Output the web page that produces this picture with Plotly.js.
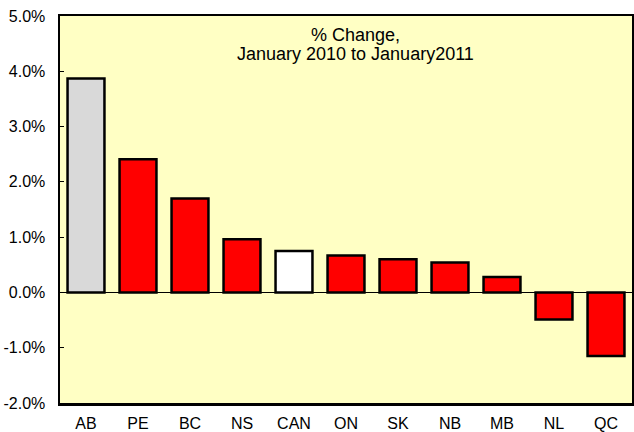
<!DOCTYPE html>
<html>
<head>
<meta charset="utf-8">
<script src="https://cdn.plot.ly/plotly-3.0.1.min.js"></script>
<style>
  body { margin: 0; background: white; }
  #chart { width: 634px; height: 432px; }
</style>
</head>
<body>
<div id="chart"></div>
<script>
// provinces, Jan 2010 -> Jan 2011 (% change)
const provinces = ['AB', 'PE', 'BC', 'NS', 'CAN', 'ON', 'SK', 'NB', 'MB', 'NL', 'QC'];
const pctChange = [3.87, 2.41, 1.70, 0.96, 0.75, 0.67, 0.60, 0.54, 0.28, -0.49, -1.15];
const barColours = ['#d9d9d9', '#ff0000', '#ff0000', '#ff0000', '#ffffff', '#ff0000',
                    '#ff0000', '#ff0000', '#ff0000', '#ff0000', '#ff0000'];
const yTickVals = [-2, -1, 0, 1, 2, 3, 4, 5];
const yTickText = yTickVals.map(v => v.toFixed(1) + '%');
const titleLines = ['% Change,', 'January 2010 to January2011'];

const trace = {
    type: 'bar',
    x: provinces,
    y: pctChange,
    marker: {
        color: barColours,
        line: { color: 'black', width: 2.5 }
    },
    hoverinfo: 'x+y',
    showlegend: false
};

// title sits inside the plot, two lines set close together
const titleY = [0.950, 0.903];
const annotations = titleLines.map((txt, i) => ({
    xref: 'paper', yref: 'paper',
    x: 0.516, y: titleY[i],
    xanchor: 'center', yanchor: 'middle',
    text: txt,
    showarrow: false,
    font: { size: 18, color: 'black' }
}));

const layout = {
    width: 634,
    height: 432,
    margin: { l: 60, r: 2, t: 16, b: 29 },
    paper_bgcolor: 'white',
    plot_bgcolor: '#ffffc4',
    bargap: 0.29,
    font: { family: 'Liberation Sans, Arial, sans-serif', size: 16, color: 'black' },
    xaxis: {
        showline: true,
        linecolor: 'black',
        linewidth: 2.5,
        mirror: true,
        ticks: '',
        showgrid: false,
        zeroline: false,
        tickfont: { size: 16 },
        ticklabelstandoff: 4
    },
    yaxis: {
        range: [-2, 5],
        tickvals: yTickVals,
        ticktext: yTickText,
        showline: true,
        linecolor: 'black',
        linewidth: 2.5,
        mirror: true,
        ticks: 'inside',
        ticklen: 4,
        tickcolor: 'black',
        showgrid: false,
        zeroline: true,
        zerolinecolor: 'black',
        zerolinewidth: 1,
        tickfont: { size: 16 },
        ticklabelstandoff: 9
    },
    annotations: annotations
};

Plotly.newPlot('chart', [trace], layout, { displayModeBar: false, staticPlot: true });
</script>
</body>
</html>
